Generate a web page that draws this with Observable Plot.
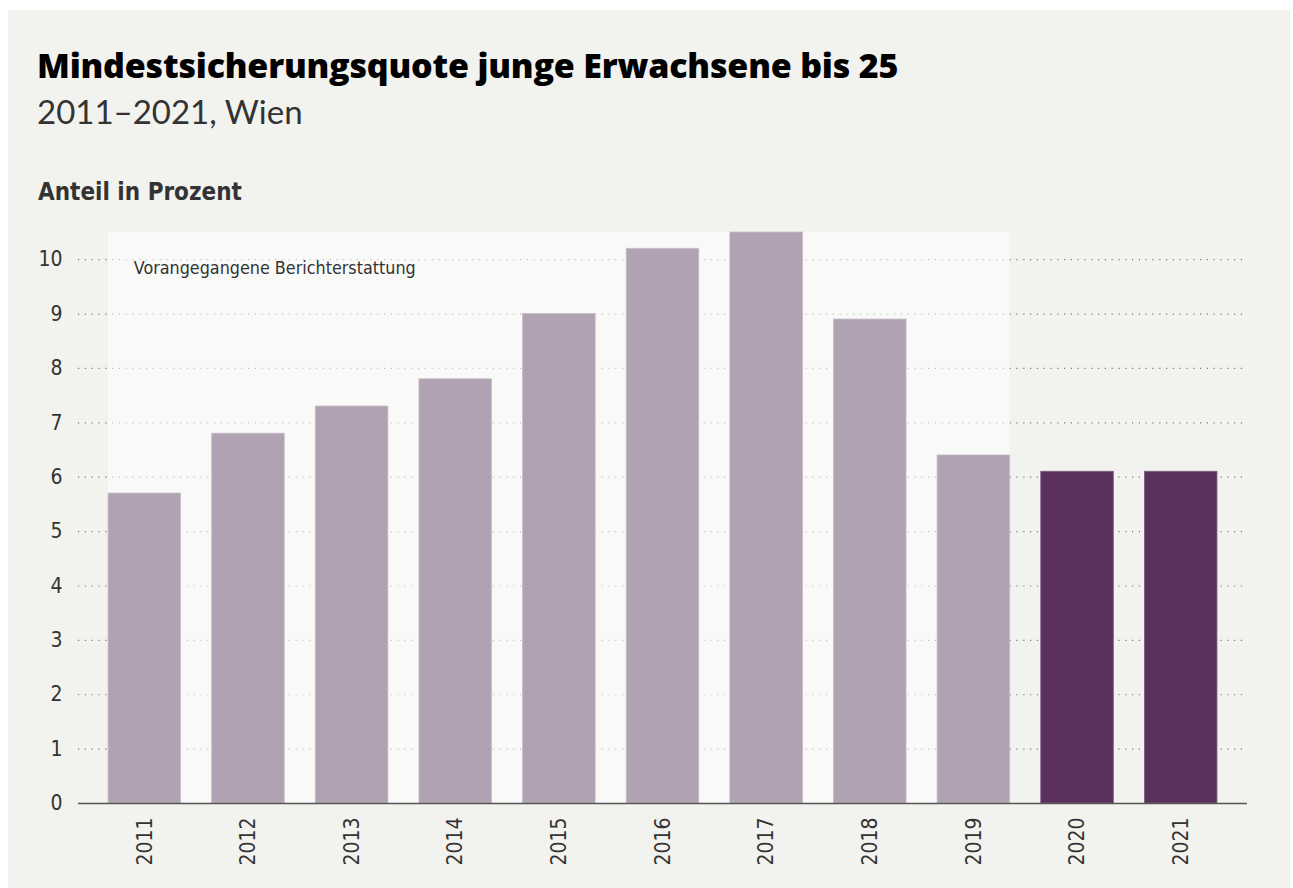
<!DOCTYPE html>
<html>
<head>
<meta charset="utf-8">
<script src="https://cdn.jsdelivr.net/npm/d3@7"></script>
<script src="https://cdn.jsdelivr.net/npm/@observablehq/plot@0.6"></script>
<style>
  html, body { margin: 0; padding: 0; background: #ffffff; }
  #wrap { position: relative; width: 1293px; height: 888px; overflow: hidden; }
  #card { position: absolute; left: 8px; top: 10px; width: 1282px; height: 878px; background: #f2f2ee; }
  #title { position: absolute; left: 37px; top: 42px; font-family: "Open Sans", sans-serif; font-weight: 800; font-size: 34px; color: #000; white-space: nowrap; letter-spacing: -0.2px; }
  #subtitle { position: absolute; left: 37px; top: 91px; font-family: Lato, sans-serif; font-weight: 400; font-size: 33px; color: #333; white-space: nowrap; }
  #ylabel { position: absolute; left: 38px; top: 178px; font-family: "DejaVu Sans Condensed", sans-serif; font-stretch: condensed; font-weight: 700; font-size: 24px; color: #333; white-space: nowrap; }
  #chart { position: absolute; left: 0; top: 220px; }
</style>
</head>
<body>
<div id="wrap">
  <div id="card"></div>
  <div id="title">Mindestsicherungsquote junge Erwachsene bis 25</div>
  <div id="subtitle">2011–2021, Wien</div>
  <div id="ylabel">Anteil in Prozent</div>
  <div id="chart"></div>
</div>
<script>
const years = ["2011","2012","2013","2014","2015","2016","2017","2018","2019","2020","2021"];
const values = [5.7, 6.8, 7.3, 7.8, 9.0, 10.2, 10.5, 8.9, 6.4, 6.1, 6.1];
const newYears = ["2020","2021"];
const previousRange = ["2011","2019"];
const annotation = "Vorangegangene Berichterstattung";
const yTicks = [0,1,2,3,4,5,6,7,8,9,10];
const yMax = 10.5;

const data = years.map((y, i) => ({year: y, value: values[i], isNew: newYears.includes(y)}));

const lightColor = "#b0a2b3";
const darkColor = "#5a315d";

const shade = (index, scales, values, dimensions, context) => {
  const x = scales.x, y = scales.y;
  const x1 = x(previousRange[0]);
  const x2 = x(previousRange[1]) + x.bandwidth();
  const g = d3.create("svg:g");
  g.append("rect")
    .attr("x", x1).attr("width", x2 - x1)
    .attr("y", y(yMax)).attr("height", y(0) - y(yMax))
    .attr("fill", "#ffffff").attr("fill-opacity", 0.55);
  return g.node();
};

const chart = Plot.plot({
  width: 1293,
  height: 653,
  marginLeft: 78,
  marginRight: 46,
  marginTop: 12,
  marginBottom: 70,
  style: { background: "transparent", fontFamily: "'DejaVu Sans Condensed', sans-serif", fontStretch: "condensed", color: "#333" },
  x: { domain: years, paddingInner: 0.3, paddingOuter: 0.29, round: false },
  y: { domain: [0, yMax] },
  marks: [
    Plot.ruleY(yTicks.filter(d => d > 0), { stroke: "#777", strokeWidth: 1.2, strokeDasharray: "1.2,5.6" }),
    shade,
    Plot.barY(data, { x: "year", y: "value", fill: d => d.isNew ? darkColor : lightColor, stroke: d => d.isNew ? "#7a5a7e" : "#c8bcc9", strokeWidth: 0.8 }),
    Plot.ruleY([0], { stroke: "#555", strokeWidth: 1.5 }),
    Plot.text([annotation], { x: () => previousRange[0], y: yMax - 0.66, text: d => d, dx: -11, textAnchor: "start", fontSize: 17.8, fill: "#333" }),
    Plot.axisY({ ticks: yTicks, tickSize: 0, tickPadding: 16, fontSize: 21, label: null, tickFormat: d => d }),
    Plot.axisX({ tickSize: 0, tickPadding: 14, tickRotate: -90, fontSize: 21, label: null })
  ]
});
document.getElementById("chart").appendChild(chart);
</script>
</body>
</html>
